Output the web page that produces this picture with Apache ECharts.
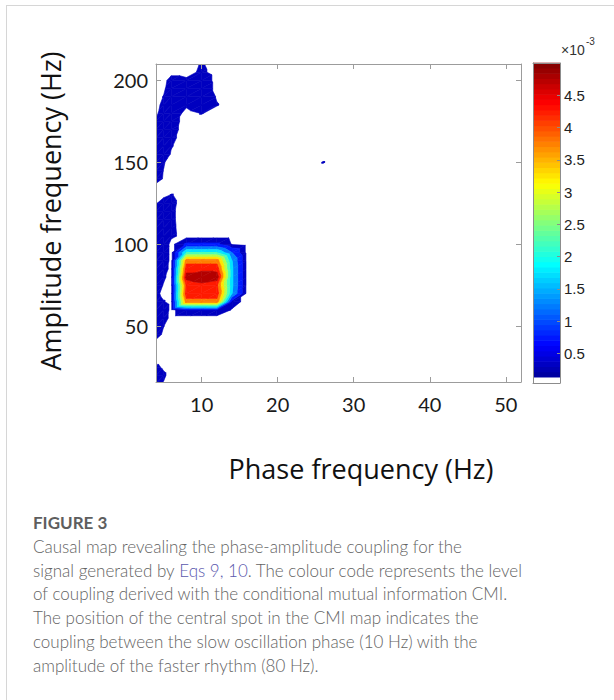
<!DOCTYPE html>
<html>
<head>
<meta charset="utf-8">
<script src="https://cdn.jsdelivr.net/npm/echarts@6/dist/echarts.min.js"></script>
<style>
  html, body { margin: 0; padding: 0; background: #ffffff; }
  #chart { width: 614px; height: 700px; }
</style>
</head>
<body>
<div id="chart"></div>
<script>
// Phase frequency grid (Hz); 5 Hz is included for resolution near the lower edge
const phaseHz = [4, 5, 6, 8, 10, 12, 14, 16, 18, 20, 22, 24, 26, 28, 30, 32, 34, 36, 38, 40, 42, 44, 46, 48, 50, 52];
// Amplitude frequency grid (Hz)
const ampHz = [15, 20, 25, 30, 35, 40, 45, 50, 55, 60, 65, 70, 75, 80, 85, 90, 95, 100, 105, 110,
               115, 120, 125, 130, 135, 140, 145, 150, 155, 160, 165, 170, 175, 180, 185, 190, 195, 200, 205, 210];

// CMI (x 10^-3) along the amplitude axis for each non-empty phase column
const cmiAt4 = [0.3, 0.35, 0.2, 0, 0, 0, 0.33, 0.35, 0.4, 0.4, 0.35, 0.26, 0.4, 0.4, 0.4, 0.45, 0.45, 0.45, 0.4, 0.4,
                0.4, 0.4, 0.1, 0, 0, 0.3, 0.4, 0.35, 0.4, 0.4, 0.4, 0.35, 0.18, 0.05, 0, 0, 0, 0, 0, 0];
const cmiAt5 = [0.1, 0.19, 0.08, 0, 0, 0, 0.05, 0.14, 0.33, 0.43, 0.16, 0, 0.1, 0.19, 0.33, 0.45, 0.45, 0.45, 0.35, 0.35,
                0.35, 0.35, 0.3, 0.05, 0, 0.1, 0.12, 0.16, 0.35, 0.35, 0.35, 0.35, 0.3, 0.35, 0.25, 0.15, 0.05, 0, 0, 0];
const cmiAt6 = [0, 0, 0, 0, 0, 0, 0, 0, 0, 0, 0, 0, 0, 0, 0, 0, 0, 0, 0.2, 0.19,
                0.18, 0.18, 0.2, 0.15, 0, 0, 0, 0, 0.1, 0.15, 0.2, 0.25, 0.29, 0.43, 0.45, 0.45, 0.4, 0.3, 0, 0];
const cmiAt8 = [0, 0, 0, 0, 0, 0, 0, 0, 0, 0.45, 3.8, 4.3, 4.1, 4.7, 4.3, 3.8, 2.0, 0.6, 0, 0,
                0, 0, 0, 0, 0, 0, 0, 0, 0, 0, 0, 0, 0, 0, 0.2, 0.4, 0.4, 0.2, 0, 0];
const cmiAt10 = [0, 0, 0, 0, 0, 0, 0, 0, 0, 0.45, 3.8, 4.3, 4.3, 5.0, 4.3, 3.8, 2.0, 0.6, 0, 0,
                 0, 0, 0, 0, 0, 0, 0, 0, 0, 0, 0, 0, 0, 0.15, 0.45, 0.48, 0.48, 0.4, 0.2, 0.16];
const cmiAt12 = [0, 0, 0, 0, 0, 0, 0, 0, 0, 0.45, 3.8, 4.3, 4.1, 4.8, 4.3, 3.8, 2.0, 0.6, 0, 0,
                 0, 0, 0, 0, 0, 0, 0, 0, 0, 0, 0, 0, 0, 0, 0.15, 0.1, 0, 0, 0, 0];
const cmiAt14 = [0, 0, 0, 0, 0, 0, 0, 0, 0, 0.1, 0.3, 1.5, 1.6, 1.6, 1.6, 1.5, 1.0, 0.1, 0, 0,
                 0, 0, 0, 0, 0, 0, 0, 0, 0, 0, 0, 0, 0, 0, 0, 0, 0, 0, 0, 0];
// single weak point elsewhere in the map: [phase Hz, amplitude Hz, CMI]
const weakPoint = [26, 150, 0.145];

// filled-contour level edges (x 10^-3); below the first level stays unfilled
const contourLevels = [0.13, 0.5, 1.0, 1.5, 2.0, 2.5, 3.0, 3.5, 4.0, 4.5, 5.0];
const colorRange = [0, 5];

const xTicks = [10, 20, 30, 40, 50];
const yTicks = [50, 100, 150, 200];
const colorbarTicks = [0.5, 1, 1.5, 2, 2.5, 3, 3.5, 4, 4.5];

const columns = new Map([[4, cmiAt4], [5, cmiAt5], [6, cmiAt6], [8, cmiAt8], [10, cmiAt10], [12, cmiAt12], [14, cmiAt14]]);

function cmiValue(ix, iy) {
  const x = phaseHz[ix], y = ampHz[iy];
  if (x === weakPoint[0] && y === weakPoint[1]) return weakPoint[2];
  const col = columns.get(x);
  return col ? col[iy] : 0;
}

// MATLAB-style jet colormap
function jet(t) {
  const c = u => Math.max(0, Math.min(1, u));
  const r = c(1.5 - Math.abs(4 * t - 3));
  const g = c(1.5 - Math.abs(4 * t - 2));
  const b = c(1.5 - Math.abs(4 * t - 1));
  return 'rgb(' + Math.round(r * 255) + ',' + Math.round(g * 255) + ',' + Math.round(b * 255) + ')';
}
const toT = v => (v - colorRange[0]) / (colorRange[1] - colorRange[0]);

// keep the part of a polygon (vertices [x, y, v]) above or below a threshold
function clipPoly(pts, thr, keepAbove) {
  const out = [];
  const inside = p => keepAbove ? p[2] >= thr : p[2] < thr;
  for (let i = 0; i < pts.length; i++) {
    const a = pts[i], b = pts[(i + 1) % pts.length];
    const ia = inside(a), ib = inside(b);
    if (ia) out.push(a);
    if (ia !== ib) {
      const t = (thr - a[2]) / (b[2] - a[2]);
      out.push([a[0] + t * (b[0] - a[0]), a[1] + t * (b[1] - a[1]), thr]);
    }
  }
  return out;
}

// filled contours from a triangulated grid with linear interpolation
const bandColors = [];
for (let k = 0; k < contourLevels.length - 1; k++) {
  bandColors.push(jet(toT((contourLevels[k] + contourLevels[k + 1]) / 2)));
}
const contourPolys = [];
for (let i = 0; i < phaseHz.length - 1; i++) {
  for (let j = 0; j < ampHz.length - 1; j++) {
    const p00 = [phaseHz[i], ampHz[j], cmiValue(i, j)];
    const p10 = [phaseHz[i + 1], ampHz[j], cmiValue(i + 1, j)];
    const p01 = [phaseHz[i], ampHz[j + 1], cmiValue(i, j + 1)];
    const p11 = [phaseHz[i + 1], ampHz[j + 1], cmiValue(i + 1, j + 1)];
    const tris = [[p00, p10, p11], [p00, p11, p01]];
    for (const tri of tris) {
      if (Math.max(tri[0][2], tri[1][2], tri[2][2]) < contourLevels[0]) continue;
      for (let k = 0; k < contourLevels.length - 1; k++) {
        let poly = clipPoly(tri, contourLevels[k], true);
        if (k < contourLevels.length - 2) poly = clipPoly(poly, contourLevels[k + 1], false);
        if (poly.length >= 3) contourPolys.push({ band: k, pts: poly });
      }
    }
  }
}
contourPolys.sort((a, b) => a.band - b.band);

// colorbar: white below the first contour level, then jet steps up to the top
const colorbarMin = 0.04;
const colorbarSteps = [];
const nSteps = 60;
for (let s = 0; s < nSteps; s++) {
  const lo = contourLevels[0] + s * (colorRange[1] - contourLevels[0]) / nSteps;
  const hi = contourLevels[0] + (s + 1) * (colorRange[1] - contourLevels[0]) / nSteps;
  colorbarSteps.push({ lo, hi, color: jet(toT((lo + hi) / 2)) });
}

const AXIS_GREY = '#9c9c9c';
const LABEL_FONT = 'Lato, "Open Sans", sans-serif';
const TITLE_FONT = '"Open Sans", Lato, sans-serif';
const CB_FONT = '"Liberation Sans", Arial, sans-serif';

function frameAxis(extra) {
  return Object.assign({
    type: 'value',
    z: 5,
    axisLine: { show: true, onZero: false, lineStyle: { color: AXIS_GREY, width: 1 } },
    splitLine: { show: false }
  }, extra);
}

const chart = echarts.init(document.getElementById('chart'), null, { renderer: 'svg' });

const captionText = [
  '{t|Causal map revealing the phase-amplitude coupling for the}',
  '{t|signal generated by }{a|Eqs 9, 10}{t|. The colour code represents the level}',
  '{t|of coupling derived with the conditional mutual information CMI.}',
  '{t|The position of the central spot in the CMI map indicates the}',
  '{t|coupling between the slow oscillation phase (10 Hz) with the}',
  '{t|amplitude of the faster rhythm (80 Hz).}'
];

const graphics = [
  { type: 'line', shape: { x1: 6, y1: 5.5, x2: 614, y2: 5.5 }, style: { stroke: '#d6d6d6', lineWidth: 1 } },
  { type: 'line', shape: { x1: 6.5, y1: 5, x2: 6.5, y2: 700 }, style: { stroke: '#d6d6d6', lineWidth: 1 } },
  { type: 'text', x: 361, y: 468, style: { text: 'Phase frequency (Hz)', fontSize: 27, fontFamily: TITLE_FONT, fill: '#111', align: 'center', verticalAlign: 'middle' } },
  { type: 'text', x: 50, y: 211, rotation: Math.PI / 2, style: { text: 'Amplitude frequency (Hz)', fontSize: 27, fontFamily: TITLE_FONT, fill: '#111', align: 'center', verticalAlign: 'middle' } },
  { type: 'text', x: 561, y: 50, style: { text: '\u00d710', fontSize: 14, fontFamily: CB_FONT, fill: '#333', align: 'left', verticalAlign: 'middle' } },
  { type: 'text', x: 586, y: 41, style: { text: '-3', fontSize: 10, fontFamily: CB_FONT, fill: '#333', align: 'left', verticalAlign: 'middle' } },
  { type: 'text', x: 33, y: 522, style: { text: 'FIGURE 3', fontSize: 17, fontWeight: 'bold', fontFamily: LABEL_FONT, fill: '#5e5e5e', align: 'left', verticalAlign: 'middle' } }
];
captionText.forEach((line, i) => {
  graphics.push({
    type: 'text', x: 33, y: 546.5 + i * 23.7,
    style: {
      text: line, align: 'left', verticalAlign: 'middle',
      rich: {
        t: { fontSize: 17, fontWeight: 300, fontFamily: LABEL_FONT, fill: '#636363' },
        a: { fontSize: 17, fontWeight: 300, fontFamily: LABEL_FONT, fill: '#5a58ad' }
      }
    }
  });
});

chart.setOption({
  backgroundColor: '#ffffff',
  animation: false,
  grid: [
    { left: 156, top: 64, right: 93, bottom: 318 },
    { left: 533, top: 63, width: 27, height: 320 }
  ],
  xAxis: [
    frameAxis({
      gridIndex: 0, position: 'bottom', min: 4, max: 52,
      axisTick: { show: true, inside: true, length: 5, customValues: xTicks, lineStyle: { color: AXIS_GREY } },
      axisLabel: { show: true, customValues: xTicks, margin: 12, fontSize: 20, fontFamily: LABEL_FONT, color: '#1a1a1a' }
    }),
    frameAxis({
      gridIndex: 0, position: 'top', min: 4, max: 52,
      axisTick: { show: true, inside: true, length: 5, customValues: xTicks, lineStyle: { color: AXIS_GREY } },
      axisLabel: { show: false }
    }),
    frameAxis({ gridIndex: 1, position: 'bottom', min: 0, max: 1, axisTick: { show: false }, axisLabel: { show: false },
      axisLine: { show: true, onZero: false, lineStyle: { color: '#8c8c8c' } } }),
    frameAxis({ gridIndex: 1, position: 'top', min: 0, max: 1, axisTick: { show: false }, axisLabel: { show: false },
      axisLine: { show: true, onZero: false, lineStyle: { color: '#8c8c8c' } } })
  ],
  yAxis: [
    frameAxis({
      gridIndex: 0, position: 'left', min: 16, max: 210,
      axisTick: { show: true, inside: true, length: 5, customValues: yTicks, lineStyle: { color: AXIS_GREY } },
      axisLabel: { show: true, customValues: yTicks, margin: 8, fontSize: 20, fontFamily: LABEL_FONT, color: '#1a1a1a' }
    }),
    frameAxis({
      gridIndex: 0, position: 'right', min: 16, max: 210,
      axisTick: { show: true, inside: true, length: 5, customValues: yTicks, lineStyle: { color: AXIS_GREY } },
      axisLabel: { show: false }
    }),
    frameAxis({ gridIndex: 1, position: 'left', min: colorbarMin, max: colorRange[1], axisTick: { show: false }, axisLabel: { show: false },
      axisLine: { show: true, onZero: false, lineStyle: { color: '#8c8c8c' } } }),
    frameAxis({
      gridIndex: 1, position: 'right', min: colorbarMin, max: colorRange[1],
      axisLine: { show: true, onZero: false, lineStyle: { color: '#8c8c8c' } },
      axisTick: { show: true, inside: true, length: 3, customValues: colorbarTicks, lineStyle: { color: '#8c8c8c' } },
      axisLabel: { show: true, customValues: colorbarTicks, margin: 4, fontSize: 15, fontFamily: CB_FONT, color: '#222' }
    })
  ],
  graphic: graphics,
  series: [
    {
      type: 'custom',
      name: 'CMI',
      xAxisIndex: 0, yAxisIndex: 0,
      clip: true,
      silent: true,
      z: 2,
      data: contourPolys.map(p => [p.pts[0][0], p.pts[0][1], p.band]),
      renderItem: (params, api) => {
        const p = contourPolys[params.dataIndex];
        const color = bandColors[p.band];
        return {
          type: 'polygon',
          shape: { points: p.pts.map(q => api.coord([q[0], q[1]])) },
          style: { fill: color, stroke: color, lineWidth: 0.6 }
        };
      }
    },
    {
      type: 'custom',
      name: 'colorbar',
      xAxisIndex: 2, yAxisIndex: 2,
      silent: true,
      z: 2,
      data: colorbarSteps.map(s => [0, s.lo, s.hi]),
      renderItem: (params, api) => {
        const s = colorbarSteps[params.dataIndex];
        const p0 = api.coord([0, s.lo]);
        const p1 = api.coord([1, s.hi]);
        return {
          type: 'rect',
          shape: { x: p0[0], y: p1[1] - 0.3, width: p1[0] - p0[0], height: p0[1] - p1[1] + 0.6 },
          style: { fill: s.color }
        };
      }
    }
  ]
});
</script>
</body>
</html>
